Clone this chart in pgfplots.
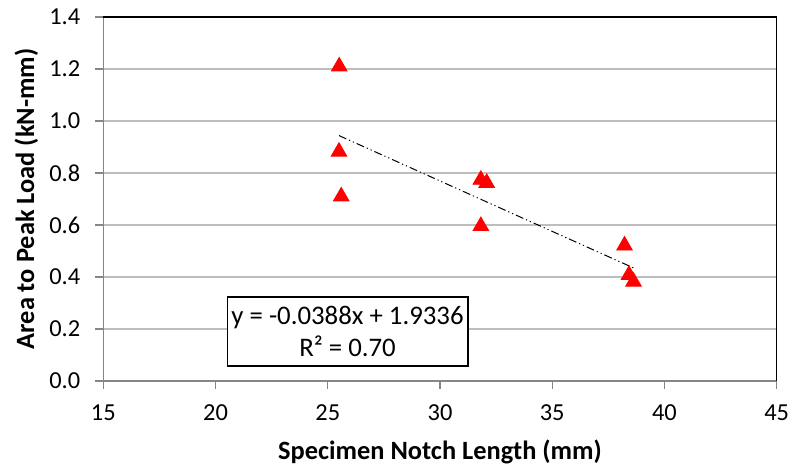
\documentclass[border=0pt]{standalone}
\usepackage{pgfplots}
\pgfplotsset{compat=1.18}
\usepackage{fontspec}
\setmainfont{Carlito}
\definecolor{axisgray}{RGB}{134,134,134}
\definecolor{gridgray}{RGB}{190,190,190}
\begin{document}
\begin{tikzpicture}
\useasboundingbox (-51.65pt,-42.5pt) rectangle (344.35pt,190.5pt);
\begin{axis}[
    at={(0,0)}, anchor=south west,
    scale only axis,
    width=336.7pt, height=182pt,
    xmin=15, xmax=45, ymin=0, ymax=1.4,
    xtick={15,20,...,45},
    ytick={0,0.2,...,1.4},
    yticklabel style={/pgf/number format/fixed, /pgf/number format/fixed zerofill, /pgf/number format/precision=1},
    /pgf/number format/assume math mode=true,
    tick label style={font=\fontsize{12.2}{14}\selectfont},
    tick align=outside, tick pos=left,
    major tick length=4pt,
    tick style={axisgray, line width=0.6pt},
    axis line style={axisgray, line width=0.6pt},
    ymajorgrids,
    grid style={gridgray, line width=0.6pt},
    xticklabel style={yshift=-4.5pt},
    yticklabel style={xshift=-4pt},
    xlabel={\textbf{Specimen Notch Length (mm)}},
    ylabel={\textbf{Area to Peak Load (kN-mm)}},
    label style={font=\fontsize{13.2}{15}\selectfont},
    xlabel style={at={(axis description cs:0.5,0)}, anchor=center, yshift=-35.5pt},
    ylabel style={at={(axis description cs:0,0.5)}, anchor=center, yshift=38.5pt},
    clip=false,
]
\draw[black, line width=0.6pt] (rel axis cs:0,1) -- (rel axis cs:1,1) -- (rel axis cs:1,0);
\addplot[black, line width=0.5pt, dash pattern=on 4pt off 1.5pt on 0.6pt off 1.5pt on 0.6pt off 1.5pt]
    coordinates {(25.5,0.944) (38.62,0.435)};
\addplot[only marks, mark=triangle*, mark size=4.5pt, red, mark options={fill=red, draw=red}]
    coordinates {
    (25.51,1.21) (25.50,0.882) (25.60,0.710)
    (31.82,0.774) (32.08,0.762) (31.82,0.596)
    (38.22,0.521) (38.42,0.408) (38.62,0.382)
    };
\node[draw=black, line width=0.9pt, fill=white, align=center,
      minimum width=118.5pt, minimum height=34.5pt, inner xsep=2pt, inner ysep=1.5pt,
      font=\fontsize{13.4}{16}\selectfont]
    at (axis cs:25.88,0.19) {y = -0.0388x + 1.9336\\R² = 0.70};
\end{axis}
\end{tikzpicture}
\end{document}
